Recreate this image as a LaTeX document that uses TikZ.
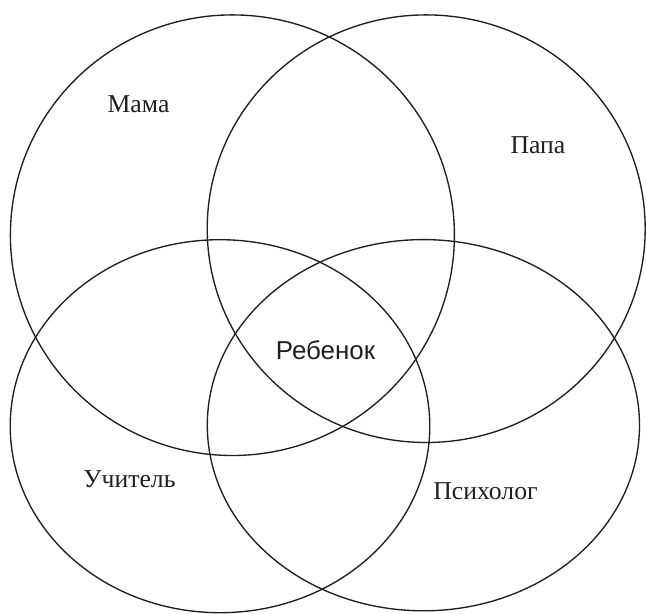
\documentclass[tikz,border=0pt]{standalone}
\usepackage{fontspec}
\setmainfont{Liberation Serif}
\newfontfamily\lsans{Liberation Sans}
\usetikzlibrary{shapes.geometric}
\begin{document}
\begin{tikzpicture}[x=1bp,y=-1bp,
  ring/.style={draw=black!88, line width=1.35bp},
  lbl/.style={font=\fontsize{25.8}{30}\selectfont, inner sep=0pt, text=black!88},
  clbl/.style={font=\lsans\fontsize{26}{30}\selectfont, inner sep=0pt, text=black!88}]
\useasboundingbox (0,0) rectangle (646,614);
\draw[ring] (232.4,235.2) ellipse [x radius=222, y radius=220.3];
\draw[ring] (426.2,228.7) ellipse [x radius=219, y radius=213.8];
\draw[ring] (220,426.2) ellipse [x radius=209.8, y radius=186.5];
\draw[ring] (423.4,425.2) ellipse [x radius=216.1, y radius=185.6];
\node[lbl] (mama) at (138.5,104) {Мама};
\node[lbl] (papa) at (538,145) {Папа};
\node[lbl] (teacher) at (129.5,479) {Учитель};
\node[lbl] (psych) at (485.5,491) {Психолог};
\node[clbl] (child) at (325.5,350) {Ребенок};
\end{tikzpicture}
\end{document}
